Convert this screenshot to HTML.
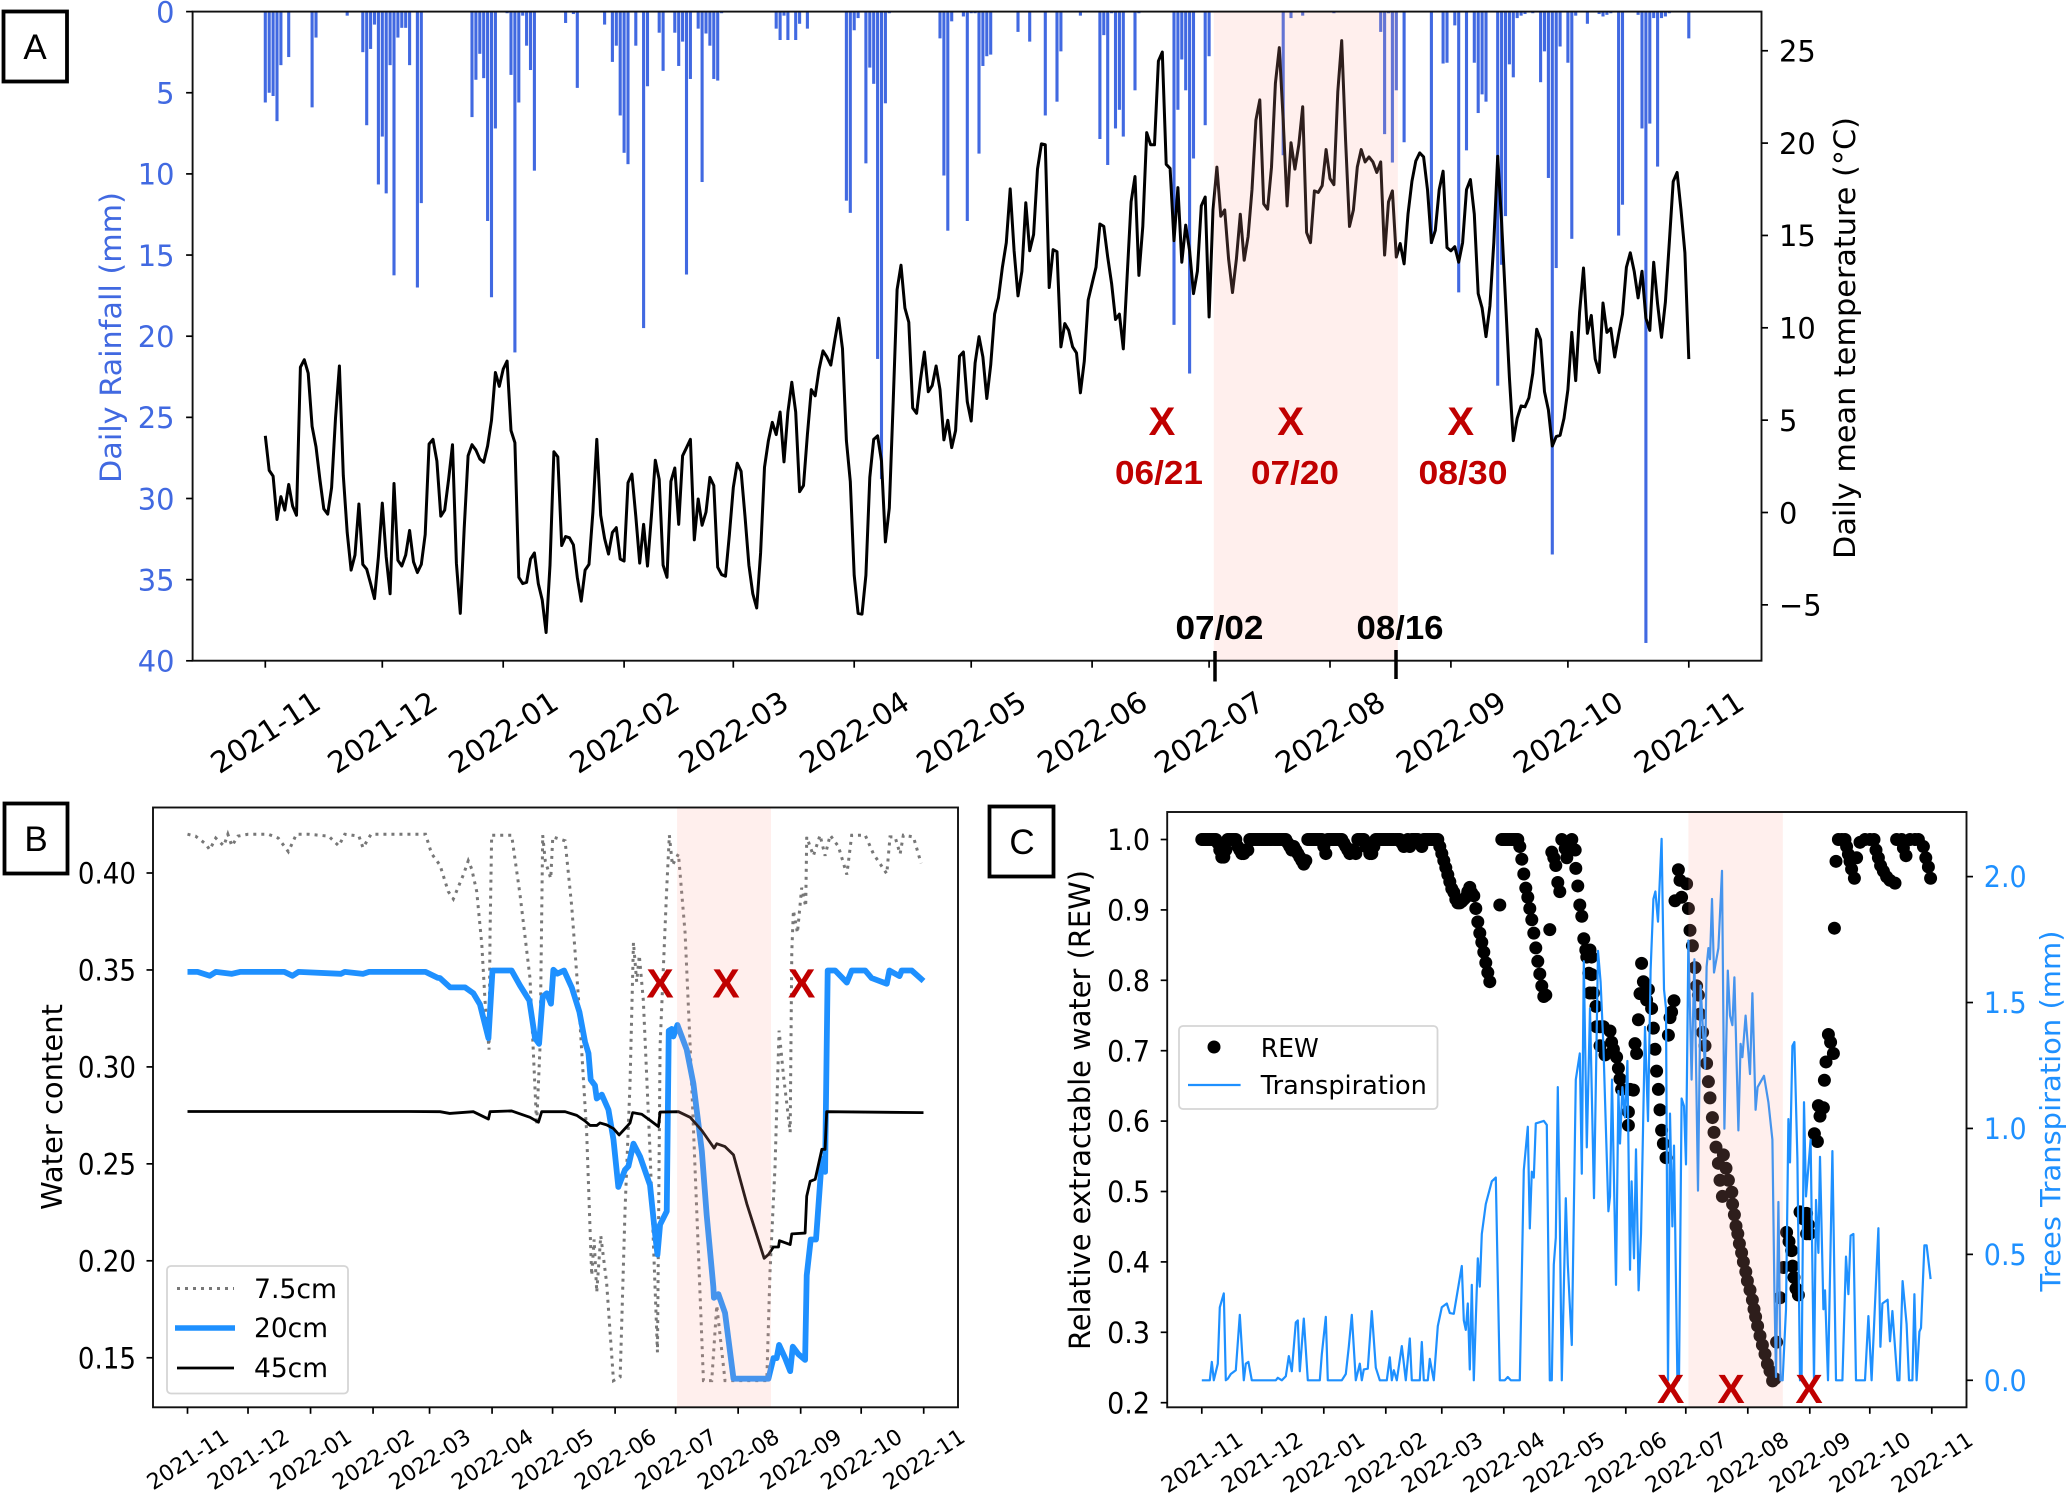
<!DOCTYPE html>
<html lang="en">
<head>
<meta charset="utf-8">
<title>Rainfall, temperature, soil water content and tree transpiration</title>
<style>
html,body{margin:0;padding:0;background:#fff;}
svg{display:block;}
text{font-family:"DejaVu Sans","Liberation Sans",sans-serif;}
.panel-letter{font-family:"Liberation Sans",sans-serif;font-size:35px;text-anchor:middle;}
.mark{font-family:"Liberation Sans",sans-serif;font-weight:bold;fill:#c00000;text-anchor:middle;}
.date{font-family:"Liberation Sans",sans-serif;font-weight:bold;font-size:33px;}
</style>
</head>
<body>
<svg id="figure" width="2067" height="1498" viewBox="0 0 2067 1498" xmlns="http://www.w3.org/2000/svg">
  <rect width="2067" height="1498" fill="#fff"/>

  <g id="panel-a"></g>
  <g id="panel-b"></g>
  <g id="panel-c"></g>

  <g>
    <text class="mark" x="1162" y="435" font-size="40">X</text>
    <text class="mark" x="1290.6" y="435" font-size="40">X</text>
    <text class="mark" x="1460.7" y="435" font-size="40">X</text>
    <text class="mark date" x="1159" y="484" textLength="88" lengthAdjust="spacingAndGlyphs">06/21</text>
    <text class="mark date" x="1295" y="484" textLength="88" lengthAdjust="spacingAndGlyphs">07/20</text>
    <text class="mark date" x="1463" y="484" textLength="89" lengthAdjust="spacingAndGlyphs">08/30</text>
    <text class="date" x="1219.5" y="639" text-anchor="middle" fill="#000" textLength="88" lengthAdjust="spacingAndGlyphs">07/02</text>
    <text class="date" x="1400" y="639" text-anchor="middle" fill="#000" textLength="87" lengthAdjust="spacingAndGlyphs">08/16</text>
    <line x1="1215" y1="651" x2="1215" y2="681.5" stroke="#000" stroke-width="3.5"/>
    <line x1="1396" y1="650" x2="1396" y2="679" stroke="#000" stroke-width="3.5"/>
  </g>

  <g>
    <text class="mark" x="660" y="997.5" font-size="41">X</text>
    <text class="mark" x="726" y="997.5" font-size="41">X</text>
    <text class="mark" x="801.7" y="997.5" font-size="41">X</text>
  </g>
  <g>
    <rect x="167" y="1266" width="181" height="127.5" rx="4" fill="#fff" fill-opacity="0.8" stroke="#d5d5d5" stroke-width="1.8"/>
    <line x1="177" y1="1288.5" x2="234" y2="1288.5" stroke="#777" stroke-width="3" stroke-dasharray="3 5"/>
    <line x1="175" y1="1328" x2="235" y2="1328" stroke="#1e90ff" stroke-width="5.5"/>
    <line x1="177" y1="1368" x2="234" y2="1368" stroke="#000" stroke-width="2.8"/>
    <text x="254" y="1298" font-size="27" textLength="83" lengthAdjust="spacingAndGlyphs">7.5cm</text>
    <text x="254" y="1337" font-size="27" textLength="74" lengthAdjust="spacingAndGlyphs">20cm</text>
    <text x="254" y="1377" font-size="27" textLength="74" lengthAdjust="spacingAndGlyphs">45cm</text>
  </g>

  <g>
    <text class="mark" x="1670.7" y="1403" font-size="41">X</text>
    <text class="mark" x="1731" y="1403" font-size="41">X</text>
    <text class="mark" x="1809" y="1403" font-size="41">X</text>
  </g>
  <g>
    <rect x="1179" y="1026" width="258.5" height="83" rx="4" fill="#fff" fill-opacity="0.85" stroke="#d5d5d5" stroke-width="1.8"/>
    <circle cx="1214" cy="1047" r="6.5" fill="#000"/>
    <line x1="1188" y1="1085" x2="1240.6" y2="1085" stroke="#1e90ff" stroke-width="2.2"/>
    <text x="1260.8" y="1057" font-size="26" textLength="58" lengthAdjust="spacingAndGlyphs">REW</text>
    <text x="1260.8" y="1094" font-size="26" textLength="166" lengthAdjust="spacingAndGlyphs">Transpiration</text>
  </g>

  <g>
    <rect x="3.5" y="11.5" width="63.5" height="70" fill="#fff" stroke="#000" stroke-width="3.8"/>
    <text class="panel-letter" x="35" y="59">A</text>
  </g>
  <g>
    <rect x="4.5" y="803.5" width="63" height="70" fill="#fff" stroke="#000" stroke-width="3.8"/>
    <text class="panel-letter" x="36" y="851">B</text>
  </g>
  <g>
    <rect x="989.5" y="806.5" width="64" height="70" fill="#fff" stroke="#000" stroke-width="3.8"/>
    <text class="panel-letter" x="1022" y="854">C</text>
  </g>
</svg>

<script>
const monthDays = [0,30,61,92,120,151,181,212,242,273,304,334,365];
const monthLabels = ["2021-11","2021-12","2022-01","2022-02","2022-03","2022-04","2022-05","2022-06","2022-07","2022-08","2022-09","2022-10","2022-11"];

const rainTicks = [0,5,10,15,20,25,30,35,40];
const tempTicks = [-5,0,5,10,15,20,25];
const soilTicks = [0.15,0.20,0.25,0.30,0.35,0.40];
const rewTicks = [0.2,0.3,0.4,0.5,0.6,0.7,0.8,0.9,1.0];
const transpTicks = [0,0.5,1,1.5,2];

const periodA = [243.2,290.4];
const periodB = [242.7,289.3];
const periodC = [243.3,290.5];

const rainDays = [0,1,2,3,4,6,12,13,21,25,26,27,28,29,30,31,32,33,34,35,36,37,39,40,53,54,55,56,57,58,59,62,63,64,65,66,67,68,69,77,79,80,87,89,90,91,92,93,95,97,98,101,102,105,106,107,108,109,111,112,113,114,115,116,117,
131,132,133,134,136,137,139,149,150,151,152,154,155,156,157,158,159,160,173,174,175,176,179,180,181,182,183,184,185,186,193,196,200,203,204,209,214,215,216,217,218,219,220,223,224,233,234,235,236,237,238,241,242,
261,263,266,274,286,287,288,289,290,292,299,302,303,305,306,308,310,311,312,313,316,317,318,319,320,321,322,323,325,327,328,329,330,331,332,334,335,336,339,342,343,344,345,347,348,352,353,354,355,356,357,358,359,360,365];
const rainValues = [5.6,5,5.2,6.75,3.3,2.8,5.9,1.6,0.25,2.5,7,2.3,0.8,10.65,7.7,11.2,3.3,16.25,1.6,1,1,3.3,17,11.8,6.5,4.2,2.6,4.1,12.9,17.6,7.2,0.1,3.9,21,5.6,0.25,2.1,3.6,9.8,0.7,0.15,4.7,0.8,3.1,2.1,6.4,8.7,9.4,2.1,19.5,4.6,1.3,3.65,1.3,3.35,1.85,16.2,4.15,1.05,10.5,1.35,2.1,4.15,4.25,0.1,
1.05,1.75,0.25,1.75,1.75,0.75,1.05,11.65,12.4,1.15,0.4,9.35,3.45,4.45,21.4,28.8,5.65,0.1,1.65,10.1,13.5,0.6,0.3,12.9,0.1,0.1,8.75,3.35,2.75,2.65,1.25,1.85,6.4,5.55,2.45,0.25,7.85,1.45,9.45,0.1,7.2,6.05,7.7,4.85,0.1,19.3,6.05,2.95,4.85,22.3,9.05,7,2.75,
8.85,0.4,0.25,0.1,1.25,7.55,0.1,9.3,4.85,8.05,14.3,3.2,3.15,0.85,17.3,8.55,3.15,6.25,5.1,5.55,23.05,15.6,12.6,3.25,4.05,0.4,0.25,0.15,0.1,4.35,2.45,10.25,33.45,15.8,2.15,3.15,14,0.25,0.75,0.15,0.3,0.2,0.1,13.8,11.9,0.2,7.2,38.9,6.9,0.4,9.55,0.4,0.3,0.1,1.65];

/* daily mean temperature, one value per day starting 2021-11-01 */
const tempValues = [
4.15,2.28,1.97,-0.38,0.86,0.13,1.52,0.35,-0.15,7.87,8.27,7.54,4.66,3.56,1.79,0.2,-0.09,1.35,5.1,7.93,
2.01,-1.08,-3.12,-2.3,0.46,-2.81,-3.07,-3.85,-4.66,-2.41,0.51,-2.41,-4.4,1.57,-2.59,-2.9,-2.3,-0.97,-2.67,-3.25,
-2.81,-1.19,3.71,3.96,2.78,-0.2,0.13,1.79,3.67,-2.74,-5.46,-0.86,3.07,3.67,3.38,2.9,2.72,3.6,4.99,7.58,
6.83,7.76,8.2,4.44,3.78,-3.51,-3.85,-3.78,-2.52,-2.19,-3.85,-4.73,-6.5,-2.85,3.29,3.01,-1.79,-1.3,-1.37,-1.75,
-3.51,-4.8,-3.12,-2.81,0.02,3.96,-0.15,-1.41,-2.25,-1.08,-0.82,-2.52,-2.63,1.61,2.08,-0.2,-2.74,-0.64,-2.9,-0.2,
2.83,1.79,-2.85,-3.51,1.68,2.41,-0.64,3.07,3.51,3.96,-1.48,0.73,-0.69,0.02,1.9,1.46,-2.96,-3.36,-3.45,-1.19,
1.35,2.67,2.23,-0.2,-2.85,-4.4,-5.17,-2.19,2.45,3.89,4.88,4.22,5.44,2.74,5.44,7.05,5.44,1.13,1.46,4.22,
6.65,6.32,7.76,8.75,8.42,7.98,9.3,10.52,8.86,3.89,1.68,-3.4,-5.46,-5.5,-3.4,1.9,3.96,4.15,2.78,-1.59,
0.24,5.99,12.07,13.39,11.07,10.3,5.66,5.37,7.2,8.69,6.54,6.87,7.93,6.65,3.93,4.99,3.51,4.44,8.46,8.69,
5.99,4.95,8.09,9.52,8.42,6.17,7.98,10.74,11.62,13.28,14.61,17.52,14.17,11.73,13.06,16.77,14.17,15.05,18.59,19.96,
19.91,12.18,14.23,14.12,8.97,10.23,9.86,8.97,8.64,6.48,8.2,11.51,12.4,13.28,15.62,15.49,13.83,12.4,10.45,10.74,
8.86,12.84,16.82,18.19,12.84,15.49,20.57,19.91,19.91,24.44,24.93,18.85,18.63,14.72,17.59,13.55,15.56,14.17,11.85,13.06,
16.6,17.08,10.59,16.38,18.7,16.04,16.38,13.72,11.91,13.72,16.15,13.66,14.94,17.48,21.24,22.34,16.71,16.42,18.7,23.23,
25.17,21.24,16.6,20.02,18.59,19.91,21.97,15.16,14.61,17.41,17.33,17.7,19.65,18.08,17.75,22.78,25.55,20.13,15.49,16.38,
18.7,19.65,18.98,19.25,18.98,18.41,18.98,13.94,16.82,17.41,13.83,14.56,13.46,16.15,17.92,19.03,19.47,19.25,17.48,14.61,
15.27,17.48,18.48,14.34,14.17,14.39,13.55,14.61,17.48,18.03,16.15,11.85,11.07,9.52,11.18,14.61,19.29,15.71,11.51,7.31,
3.89,5.1,5.77,5.72,6.21,7.54,9.92,9.35,6.54,5.55,3.6,4.11,4.18,5.1,6.65,9.75,7.14,10.85,13.24,9.7,
10.67,8.31,7.58,11.34,9.75,9.97,8.42,9.64,10.74,13.28,14.06,13.06,11.62,13.06,10.52,9.86,13.55,11.29,9.48,11.4,
14.61,17.92,18.41,16.38,14.06,8.31];

const soil75Days = [0,4,9,11,14,18,20,22,25,30,40,45,50,54,60,70,75,78,85,87,91,100,115,118,121,125.2,129.3,131.8,136.8,139.2,140.9,143.4,145.9,147.5,149.5,150,150.8,160.7,164.9,169.8,173.1,174.8,176.1,177.4,180.1,181.1,187.2,190.5,193.8,197.9,199.6,200.4,201.6,202.9,204.9,207.8,211.2,214.5,216.9,219.4,221.1,222.7,224,226,229.3,233,234.3,237.6,238.9,240.4,243.4,246.7,249.2,253.3,255.8,259.9,262.4,266.5,287.2,288.8,291.3,292.5,293.3,295.5,298.8,299.6,300.4,302.4,304.5,306.5,307,310.3,313.6,316.1,318.6,322.7,326.9,329.3,336,340.1,346.7,348.3,350.8,353.3,354.9,359.9,363.7];
const soil75Values = [0.42,0.419,0.415,0.412,0.418,0.414,0.42,0.414,0.419,0.42,0.42,0.418,0.411,0.42,0.42,0.419,0.414,0.42,0.419,0.413,0.42,0.42,0.42,0.42,0.41,0.404,0.3904,0.3866,0.3992,0.4063,0.4021,0.3904,0.3633,0.3342,0.3089,0.3691,0.4195,0.4195,0.3885,0.3458,0.2701,0.3109,0.4195,0.406,0.3972,0.4186,0.4166,0.3827,0.3361,0.2662,0.2158,0.1925,0.211,0.1838,0.2129,0.1886,0.1382,0.1401,0.2255,0.2915,0.3642,0.3439,0.3575,0.3342,0.2566,0.1528,0.3109,0.3924,0.4195,0.404,0.4098,0.3691,0.3109,0.2042,0.1382,0.1382,0.177,0.1382,0.1382,0.1945,0.2488,0.2915,0.3187,0.2953,0.2663,0.3594,0.3807,0.3691,0.3924,0.3827,0.4186,0.4089,0.4195,0.4089,0.4195,0.4137,0.3992,0.4195,0.4195,0.4098,0.3996,0.4186,0.4186,0.4098,0.4195,0.4186,0.405];

const soil20Days = [0,5,11,14,22,26,48,52,55,76,78,87,90,118,124,125.2,130.2,137.6,141.7,145,149.2,151.2,160.7,164.9,169.5,172.3,174.3,176.1,178.1,180.2,181.4,183.4,186.7,190.5,194.3,197.1,198.8,199.9,202,202.9,205.4,208.7,211.2,213.6,216.9,218.6,221.1,224.4,229.3,231.8,233,234.3,237.6,238.6,240.1,240.9,242.9,247.5,250.8,255,257.4,260.7,261,263.2,266.5,270.7,288,290.5,292.1,293.3,296.3,298.8,300.1,302.9,306.2,307,309,311.6,314.5,316.1,317.4,321.1,326.9,329.3,336,339.2,346.7,348,353,354.1,359.1,364.9];
const soil20Values = [0.349,0.349,0.347,0.349,0.348,0.349,0.349,0.347,0.349,0.348,0.349,0.348,0.349,0.349,0.346,0.3458,0.341,0.341,0.338,0.3322,0.3148,0.3497,0.3497,0.3419,0.3342,0.3148,0.3119,0.3361,0.338,0.3326,0.3501,0.3481,0.3497,0.341,0.3284,0.3128,0.307,0.2934,0.2905,0.2837,0.2857,0.2779,0.2624,0.2381,0.2469,0.2488,0.2604,0.2537,0.2391,0.2139,0.2032,0.2187,0.2255,0.3186,0.3196,0.3157,0.3216,0.3089,0.2915,0.2566,0.2236,0.1867,0.1809,0.1828,0.1731,0.1392,0.1392,0.1498,0.1498,0.1566,0.1498,0.1431,0.1557,0.1518,0.1489,0.1925,0.211,0.211,0.2527,0.2459,0.3497,0.3497,0.3435,0.3497,0.3497,0.3458,0.3429,0.3497,0.3468,0.3497,0.3497,0.3443];

const soil45Days = [0,60,100,110,125.2,130,141.7,149.2,150,160.7,169.8,174,175.6,187.2,193,197.1,199.6,202.9,204.5,207.8,211.2,214,217.8,219.4,220.7,225.2,229.3,233.5,234.3,243.4,249.2,255,261.1,262.4,266.5,270.7,277.3,285.9,288,290.5,293,293.5,298.8,299.6,306.2,307,308.7,311.2,314.5,316.1,316.9,364.9];
const soil45Values = [0.277,0.277,0.277,0.277,0.2769,0.276,0.2769,0.2731,0.2769,0.2773,0.274,0.2715,0.2769,0.2769,0.275,0.2721,0.2698,0.2698,0.2711,0.2701,0.2682,0.2649,0.2692,0.2711,0.2764,0.2756,0.2725,0.2692,0.2767,0.2769,0.274,0.2672,0.2581,0.2604,0.2589,0.2546,0.2294,0.2013,0.2032,0.2071,0.2071,0.2104,0.2084,0.2139,0.2143,0.2333,0.241,0.242,0.2575,0.2575,0.2769,0.2764];

const rewDays = [
0,1,2,3,4,5,6,7,8,9,10,11,12,13,14,15,16,17,18,19,20,21,22,23,
24,25,26,27,28,29,30,31,32,33,34,35,36,37,38,39,40,41,42,
43,44,45,46,47,48,49,50,51,52,
53,54,55,56,57,58,59,60,61,62,
63,64,65,66,67,68,69,70,
71,72,73,74,75,76,77,78,79,80,81,82,83,84,85,86,
87,88,89,90,91,92,93,94,95,96,97,98,99,
100,101,102,103,104,105,106,107,108,109,110,
111,112,113,114,115,116,117,118,
119,120,121,122,123,124,125,126,127,128,129,
130,131,132,133,134,135,136,137,138,139,140,141,142,143,144,
149,150,151,152,153,154,155,156,157,158,
159,160,161,162,163,164,165,166,167,168,169,170,171,172,174,
175,176,177,178,179,180,181.7,182.5,185,186.7,187,188,189,190,191,192,192.5,193.5,194,
194.1,194.9,195,195.8,197.1,197.4,199.1,200.8,199.1,201.6,204.1,204.9,205.8,207.4,208.3,209.1,209.9,213.3,213.3,214.1,215.8,216.6,217.4,218.3,219.1,220.8,219.9,223.3,222.4,224.9,225.8,226.6,227.4,228.3,229.1,229.9,230.8,232.1,233.3,234.1,234.9,236.1,236.6,239.9,238.3,239.1,242.4,
243.3,244.1,245.3,246.6,247.4,248.3,249.1,250.4,251.6,252.4,253.3,254.1,255.3,256.1,257.1,258.3,260.8,262.1,259.1,263.3,260.3,265,265.4,266.3,267.1,268,268.8,269.9,270.8,272,272.8,274.1,275.3,276.1,276.9,277.9,279.1,280.3,281.6,282.8,284.1,285.4,286.6,287.4,
289.1,290.8,292.4,293.6,294.9,295.4,296.1,297.1,298.3,299.1,300.8,302.4,303.3,302.4,303.8,306.3,307.8,308.3,310.8,309.1,311.3,312.1,315.8,314.4,313.3,316.3,317.1,318.3,320,321.6,322.4,323.3,324.1,324.9,326.3,327.4,329.1,331.6,334.1,336.1,337.1,338.3,339.4,340.8,342.4,344.1,346.6,347.4,349.9,350.8,352.1,354.1,356.6,358.3,360.8,362,363.3,364.4];
const rewValues = [
1,1,1,1,1,1,1,1,0.995,0.985,0.975,0.975,0.985,1,1,1,1,1,0.99,0.985,0.98,0.98,0.985,0.985,
1,1,1,1,1,1,1,1,1,1,1,1,1,1,1,1,1,1,1,
0.995,0.99,0.985,0.99,0.985,0.98,0.975,0.97,0.965,0.97,
1,1,1,1,1,1,1,1,0.99,0.98,
1,1,1,1,1,1,1,1,
0.995,0.99,0.985,0.98,0.985,0.985,0.98,1,1,1,1,0.99,0.99,0.98,0.98,0.99,
1,1,1,1,1,1,1,1,1,1,1,1,1,
0.995,0.99,0.995,1,0.99,1,1,1,1,0.995,0.99,
1,1,1,1,1,1,1,1,
0.99,0.98,0.97,0.96,0.95,0.94,0.93,0.925,0.915,0.91,0.91,
0.912,0.915,0.918,0.926,0.932,0.924,0.92,0.902,0.883,0.867,0.854,0.84,0.825,0.811,0.798,
0.907,1,1,1,1,1,1,1,1,1,
0.99,0.972,0.951,0.931,0.918,0.902,0.886,0.867,0.846,0.827,0.809,0.792,0.777,0.779,0.872,
0.982,0.974,0.963,0.939,0.926,1,0.987,0.974,1,0.985,0.959,0.934,0.907,0.891,0.859,0.843,0.833,0.81,0.782,
0.843,0.833,0.808,0.782,0.763,0.734,0.734,0.734,0.707,0.694,0.728,0.712,0.702,0.691,0.675,0.66,0.645,0.613,0.594,0.645,0.644,0.71,0.696,0.744,0.781,0.798,0.824,0.787,0.772,0.76,0.732,0.702,0.671,0.645,0.616,0.587,0.568,0.548,0.722,0.747,0.755,0.771,0.913,0.918,0.957,0.942,0.937,
0.902,0.871,0.849,0.818,0.792,0.779,0.752,0.726,0.707,0.682,0.656,0.633,0.605,0.584,0.563,0.54,0.552,0.533,0.516,0.516,0.493,0.499,0.482,0.467,0.451,0.44,0.426,0.413,0.4,0.386,0.373,0.36,0.346,0.333,0.322,0.309,0.295,0.282,0.269,0.255,0.245,0.231,0.234,0.286,
0.349,0.392,0.442,0.429,0.416,0.394,0.378,0.362,0.353,0.471,0.461,0.469,0.453,0.44,0.44,0.582,0.571,0.622,0.619,0.607,0.658,0.684,0.696,0.712,0.723,0.874,0.969,1,1,1,0.99,0.979,0.969,0.958,0.945,0.974,0.996,1,1,1,0.985,0.974,0.963,0.955,0.947,0.942,0.938,1,1,0.988,0.977,1,1,1,0.99,0.974,0.961,0.945];

const transpDays = [0,4,5,6,8,9,11,12,13,14.5,17,19,21,22,23.3,25,37,38,40,42,43.5,45,47,48,49,51,53,59,60,62,63,70,72,73.5,75,77,79,80,81,83,85,87,89,92.5,94,95,96,97.5,100,102,104,105,109,110,111,113,114,116,118,120,122.5,124,126,130,131,132,133,134,135,136,138,139,140,142,145,147,149,151.5,153,154.5,159,161,163,164,165,166,167,171,172.5,174,175,176,177,178,179,180,182,183,185,187,189,190,191,192.5,194.1,196.1,198.1,199.4,200.8,203.3,204.1,205.1,207.1,208.3,209.1,210.3,211.6,212.8,214.1,214.9,216.1,217.1,218.4,219.6,221.6,223.1,224.4,225.8,226.8,228.1,229.9,231.1,232.1,233.1,234.1,235.3,236.1,237.8,238.6,239.9,241.1,242.1,243.3,244.9,246.3,248.1,249.4,251.6,252.4,253.3,254.1,255.1,256.1,258.3,260.1,261.3,263,264.1,265.3,266.3,268.3,269.4,270.3,271.9,274.1,275.3,276.9,277.9,281.1,283.3,285.3,286.3,287.1,288.3,289.4,290.4,292.1,293.3,294.1,295.3,296.3,297.8,299.1,299.9,301.1,302.1,304.4,306.1,307.1,308.3,309.1,310.8,311.6,313.1,315.3,317.1,320.3,322.1,323.3,324.4,325.8,327.1,331.6,333.3,334.9,338.3,339.3,340.3,342.9,344.1,345.3,347.8,348.8,350.4,352.4,353.6,355.3,356.3,357.4,358.8,359.6,361.3,362.4,364.4];
const transpValues = [0,0,0.073,0,0.066,0.29,0.345,0,0.006,0.025,0.04,0.26,0,0.066,0.073,0,0,0.01,0,0.016,0.096,0.036,0.23,0.238,0.036,0.245,0,0,0.103,0.252,0,0,0.025,0.133,0.26,0,0.066,0,0.043,0.046,0.275,0.05,0,0,0.091,0,0.04,0,0.136,0,0.166,0,0,0.152,0,0,0.085,0,0.215,0.29,0.305,0.267,0.264,0.454,0.238,0.2,0.305,0.043,0.379,0,0.484,0.372,0.581,0.7,0.79,0.805,0,0,0.013,0,0,0.835,1.007,0.603,0.828,0.805,1.02,1.03,1.014,0,0,0.46,0.566,1.164,0.64,0,0.723,0.46,0.14,1.194,1.298,0.82,1.664,0.925,1.477,0.723,1.705,1.582,1.328,0.671,0.73,1.194,0.379,1.149,0.94,1.164,1.044,1.268,0.439,0.79,0.484,0.917,0.357,0.581,1.403,1.029,1.627,1.911,1.941,1.821,2.15,1.552,1.477,0,1.059,0.611,0.932,0,0,1.119,1.089,0.857,1.746,1.194,1.672,0.753,1.567,1.238,1.642,1.716,1.672,1.911,1.619,1.716,2.023,0.999,1.627,1.448,1.41,1.6,0.992,1.336,1.283,1.448,1.216,1.537,1.074,1.164,1.209,1.104,0.955,0.357,0.013,0.708,0,0,0.282,1.037,0.865,1.328,1.343,0.88,0,0.013,1.104,0.73,0.955,0,0.716,0.506,0.887,0.282,0.357,0,0.91,0,0,0.491,0.342,0.574,0.581,0,0,0.255,0,0.604,0.133,0.305,0.32,0.155,0.275,0,0,0.394,0.223,0,0,0.342,0,0.193,0.208,0.536,0.536,0.402];

const NS = "http://www.w3.org/2000/svg";
const BLACK = "#000";
const RAIN_BLUE = "#4169e1";
const DODGER = "#1e90ff";
const PINK = "#ffa59b";

function mk(parent, tag, attrs, txt) {
  const el = document.createElementNS(NS, tag);
  for (const k in attrs) el.setAttribute(k, attrs[k]);
  if (txt !== undefined) el.textContent = txt;
  parent.appendChild(el);
  return el;
}
function pathFrom(xs, ys, xFn, yFn) {
  let d = "";
  const n = Math.min(xs.length, ys.length);
  for (let i = 0; i < n; i++) d += (i ? "L" : "M") + xFn(xs[i]).toFixed(2) + " " + yFn(ys[i]).toFixed(2);
  return d;
}
function hText(parent, x, y, str, size, anchor, sx, fill) {
  return mk(parent, "text", {transform: "translate(" + x + "," + y + ") scale(" + sx + ",1)", "font-size": size, "text-anchor": anchor, fill: fill}, str);
}
function vLabel(parent, cx, cy, str, size, len, fill) {
  return mk(parent, "text", {transform: "translate(" + cx + "," + cy + ") rotate(-90)", "font-size": size, "text-anchor": "middle", fill: fill, textLength: len, lengthAdjust: "spacingAndGlyphs"}, str);
}
function xAxis(parent, xFn, bottom, size, labelY, tickLen) {
  monthDays.forEach(function (d, i) {
    const t = mk(parent, "line", {x1: xFn(d), x2: xFn(d), y1: bottom, y2: bottom + tickLen, stroke: BLACK, "stroke-width": 1.7});
    
    
    const l = mk(parent, "text", {transform: "translate(" + xFn(d) + "," + labelY + ") rotate(-33)", "font-size": size, "text-anchor": "middle", dy: size * 0.36, fill: BLACK}, monthLabels[i]);
    
    
  });
}
function frame(parent, l, t, r, b) {
  const f = mk(parent, "rect", {x: l, y: t, width: r - l, height: b - t, fill: "none", stroke: "#111", "stroke-width": 1.9});
  
  
}
function span(parent, x1, x2, top, bottom) {
  const s = mk(parent, "rect", {x: x1, y: top, width: x2 - x1, height: bottom - top, fill: PINK, "fill-opacity": 0.18});
  
  
}
function yTicks(parent, ticks, yFn, side, axisX, labelX, size, sx, fill, fmt) {
  ticks.forEach(function (v) {
    const y = yFn(v);
    const t = mk(parent, "line", {x1: axisX, x2: axisX + (side === "left" ? -6.5 : 6.5), y1: y, y2: y, stroke: BLACK, "stroke-width": 1.7});
    
    
    const l = hText(parent, labelX, y + size * 0.365, fmt(v), size, side === "left" ? "end" : "start", sx, fill);
    
    
  });
}

/* ---------- Panel A ---------- */
const A = {l: 192.6, r: 1761.5, t: 11.6, b: 660.7};
const xA = function (d) { return 265.3 + d * 3.9; };
const yRain = function (v) { return A.t + v * 16.23; };
const yTemp = function (t) { return 512.5 - t * 18.47; };
const dayIndex = tempValues.map(function (_, i) { return i; });
const gA = document.getElementById("panel-a");

rainDays.forEach(function (d, i) {
  const b = mk(gA, "rect", {x: xA(d) - 1.55, y: yRain(0), width: 3.1, height: yRain(rainValues[i]) - yRain(0), fill: RAIN_BLUE});
  
  
});
const tempLine = mk(gA, "path", {d: pathFrom(dayIndex, tempValues, xA, yTemp), fill: "none", stroke: BLACK, "stroke-width": 3, "stroke-linejoin": "round"});


span(gA, xA(periodA[0]), xA(periodA[1]), A.t, A.b);
frame(gA, A.l, A.t, A.r, A.b);
xAxis(gA, xA, A.b, 29.5, 732, 7);
yTicks(gA, rainTicks, yRain, "left", A.l, 174.5, 29.5, 0.98, RAIN_BLUE, function (v) { return String(v); });
yTicks(gA, tempTicks, yTemp, "right", A.r, 1779, 29.5, 0.98, BLACK, function (v) { return v < 0 ? "\u2212" + Math.abs(v) : String(v); });
const yLabelRain = vLabel(gA, 121, 337.5, "Daily Rainfall (mm)", 29.5, 291, RAIN_BLUE);


const yLabelTemp = vLabel(gA, 1855, 338, "Daily mean temperature (\u00B0C)", 29.5, 442, BLACK);



/* ---------- Panel B ---------- */
const B = {l: 153, r: 958, t: 807.5, b: 1407.3};
const xB = function (d) { return 187.5 + d * 2.017; };
const yB = function (v) { return 873 + (0.40 - v) * 1939; };
const gB = document.getElementById("panel-b");

const line75 = mk(gB, "path", {d: pathFrom(soil75Days, soil75Values, xB, yB), fill: "none", stroke: "#777", "stroke-width": 3, "stroke-dasharray": "3 5"});


const line20 = mk(gB, "path", {d: pathFrom(soil20Days, soil20Values, xB, yB), fill: "none", stroke: DODGER, "stroke-width": 5.8, "stroke-linejoin": "round"});


const line45 = mk(gB, "path", {d: pathFrom(soil45Days, soil45Values, xB, yB), fill: "none", stroke: BLACK, "stroke-width": 2.8, "stroke-linejoin": "round"});


span(gB, xB(periodB[0]), xB(periodB[1]), B.t, B.b);
frame(gB, B.l, B.t, B.r, B.b);
xAxis(gB, xB, B.b, 22, 1459, 6.5);
yTicks(gB, soilTicks, yB, "left", B.l, 136, 29, 0.9, BLACK, function (v) { return v.toFixed(2); });
const yLabelB = vLabel(gB, 62, 1107, "Water content", 28.5, 206, BLACK);



/* ---------- Panel C ---------- */
const C = {l: 1167.2, r: 1966.5, t: 812, b: 1407.3};
const xC = function (d) { return 1201.8 + d * 2; };
const yRew = function (v) { return 839.5 + (1 - v) * 704; };
const yTr = function (t) { return 1380.3 - t * 251.85; };
const gC = document.getElementById("panel-c");

rewDays.forEach(function (d, i) {
  const p = mk(gC, "circle", {cx: xC(d), cy: yRew(rewValues[i]), r: 6.5, fill: BLACK});
  
  
});
const trLine = mk(gC, "path", {d: pathFrom(transpDays, transpValues, xC, yTr), fill: "none", stroke: DODGER, "stroke-width": 2.2, "stroke-linejoin": "round"});


span(gC, xC(periodC[0]), xC(periodC[1]), C.t, C.b);
frame(gC, C.l, C.t, C.r, C.b);
xAxis(gC, xC, C.b, 22, 1462, 6.5);
yTicks(gC, rewTicks, yRew, "left", C.l, 1150, 29, 0.93, BLACK, function (v) { return v.toFixed(1); });
yTicks(gC, transpTicks, yTr, "right", C.r, 1983.8, 29, 0.93, DODGER, function (v) { return v.toFixed(1); });
const yLabelRew = vLabel(gC, 1090, 1110, "Relative extractable water (REW)", 29, 480, BLACK);


const yLabelTr = vLabel(gC, 2060, 1111, "Trees Transpiration (mm)", 28, 361, DODGER);


</script>
</body>
</html>
